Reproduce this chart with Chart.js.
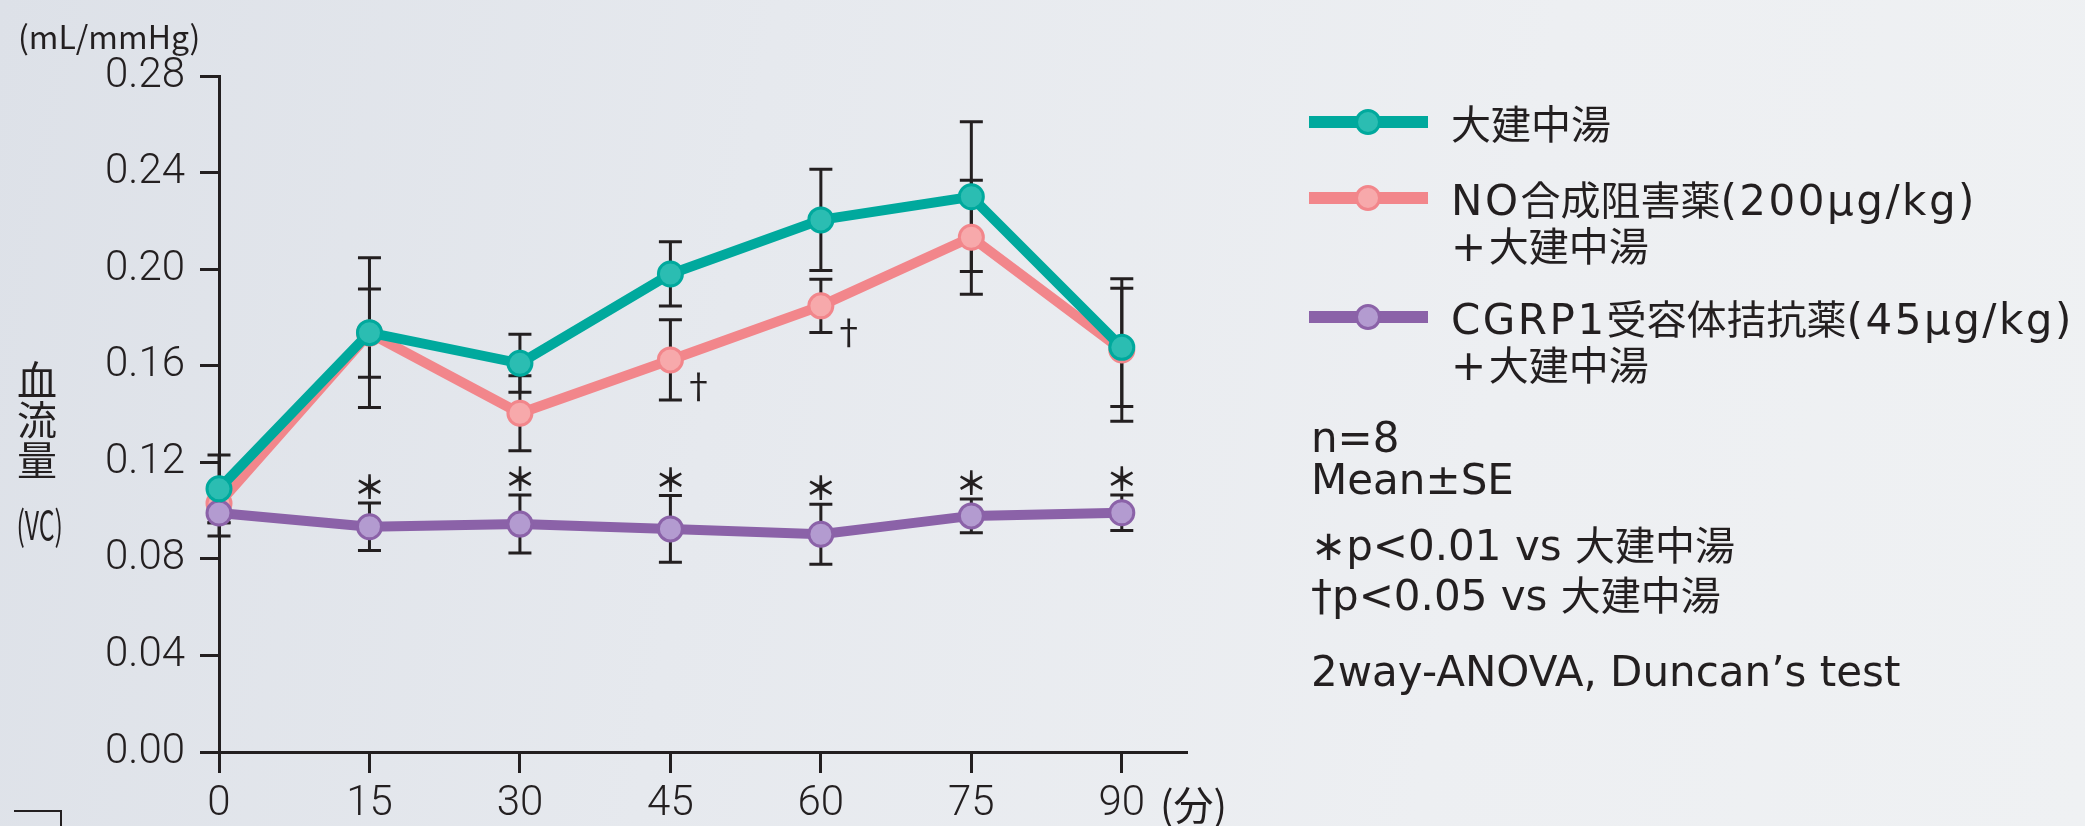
<!DOCTYPE html>
<html>
<head>
<meta charset="utf-8">
<script src="https://cdn.jsdelivr.net/npm/chart.js@4.4.1/dist/chart.umd.min.js"></script>
<style>
  html, body { margin: 0; padding: 0; }
  body {
    width: 2085px; height: 826px; overflow: hidden;
    background: linear-gradient(100deg, #dde1e8 0%, #e6e9ee 35%, #edeff2 70%, #eff1f3 100%);
    font-family: 'Noto Sans CJK JP', 'Noto Sans', sans-serif;
    color: #231f20;
  }
  #wrap { position: relative; width: 2085px; height: 826px; }
  #c { position: absolute; left: 0; top: 0; }
  .t { position: absolute; white-space: nowrap; line-height: 46px; font-size: 40px; }
  .t .lat { font-family: 'DejaVu Sans', sans-serif; font-size: 42px; }
  .leg .lat { letter-spacing: 2.5px; }
  .sw { position: absolute; width: 119px; height: 12px; }
  .dot { position: absolute; width: 20px; height: 20px; border-radius: 50%; border: 3px solid; }
  .mark { position: absolute; transform: translate(-50%, -50%); line-height: 1; }
</style>
</head>
<body>
<div id="wrap">
  <canvas id="c" width="2085" height="826"></canvas>
</div>
<script>
// 時間(分)
const times = [0, 15, 30, 45, 60, 75, 90];
const xTicks = [0, 15, 30, 45, 60, 75, 90];
const yTicks = [0, 0.04, 0.08, 0.12, 0.16, 0.20, 0.24, 0.28];

// 血流量 (mL/mmHg), Mean±SE
const daikenchuto   = [0.109, 0.1737, 0.161, 0.198, 0.2204, 0.230, 0.1676];
const daikenchutoSE = [0.014, 0.031, 0.012, 0.0133, 0.021, 0.031, 0.0245];
const noInhibitor   = [0.103, 0.1735, 0.1403, 0.1624, 0.1848, 0.2132, 0.1665];
const noInhibitorSE = [0.008, 0.0183, 0.0155, 0.0166, 0.011, 0.0236, 0.0295];
const cgrp          = [0.099, 0.0933, 0.0944, 0.0924, 0.0902, 0.0978, 0.0991];
const cgrpSE        = [0.0095, 0.0098, 0.012, 0.0138, 0.0124, 0.007, 0.0074];

// 有意差マーク
const cgrpMarks = ['', '＊', '＊', '＊', '＊', '＊', '＊'];
const noMarks   = ['', '', '', '†', '†', '', ''];

const labels = ['大建中湯', 'NO合成阻害薬(200μg/kg)\n+大建中湯', 'CGRP1受容体拮抗薬(45μg/kg)\n+大建中湯'];
const notes = ['n=8', 'Mean±SE', '∗p<0.01 vs 大建中湯', '†p<0.05 vs 大建中湯', '2way-ANOVA, Duncan’s test'];

const ink = '#231f20';
const teal = '#00a99d', pink = '#f2868b', purple = '#8b62a8';

function pts(vals) {
  return times.map((t, i) => ({ x: t, y: vals[i] }));
}

function dataset(label, vals, se, line, fill, order) {
  return {
    label: label, data: pts(vals), se: se,
    borderColor: line, borderWidth: 10,
    pointRadius: 12, pointBorderWidth: 3,
    pointBackgroundColor: fill, pointBorderColor: line,
    tension: 0, clip: false, order: order
  };
}

// エラーバー (データより先に描く)
const errorBars = {
  id: 'errorBars',
  beforeDatasetsDraw(chart) {
    const ctx = chart.ctx, xs = chart.scales.x, ys = chart.scales.y;
    ctx.save();
    ctx.strokeStyle = ink;
    ctx.lineWidth = 3;
    chart.data.datasets.forEach(ds => {
      ds.data.forEach((p, i) => {
        const x = xs.getPixelForValue(p.x);
        const y1 = ys.getPixelForValue(p.y + ds.se[i]);
        const y2 = ys.getPixelForValue(p.y - ds.se[i]);
        ctx.beginPath();
        ctx.moveTo(x, y1); ctx.lineTo(x, y2);
        ctx.moveTo(x - 11.5, y1); ctx.lineTo(x + 11.5, y1);
        ctx.moveTo(x - 11.5, y2); ctx.lineTo(x + 11.5, y2);
        ctx.stroke();
      });
    });
    ctx.restore();
  }
};

const axisFont = { family: 'Roboto', size: 42, weight: 300 };

const chart = new Chart(document.getElementById('c'), {
  type: 'line',
  data: {
    datasets: [
      dataset(labels[0], daikenchuto, daikenchutoSE, teal, '#2bbdb2', 0),
      dataset(labels[1], noInhibitor, noInhibitorSE, pink, '#f7a9ab', 2),
      dataset(labels[2], cgrp, cgrpSE, purple, '#b39bd0', 1)
    ]
  },
  options: {
    responsive: false,
    animation: false,
    devicePixelRatio: 1,
    layout: { autoPadding: false, padding: { left: 0, top: 76, right: 898, bottom: 0 } },
    plugins: { legend: { display: false }, tooltip: { enabled: false } },
    scales: {
      x: {
        type: 'linear', min: 0, max: 96.5,
        afterBuildTicks: s => { s.ticks = xTicks.map(v => ({ value: v })); },
        afterFit: s => { s.height = 74; },
        grid: { drawOnChartArea: false, tickLength: 21, tickWidth: 3, tickColor: ink },
        border: { display: true, color: ink, width: 3 },
        ticks: { color: ink, font: axisFont, padding: 6, maxRotation: 0, callback: v => String(v) }
      },
      y: {
        min: 0, max: 0.28,
        afterBuildTicks: s => { s.ticks = yTicks.map(v => ({ value: v })); },
        afterFit: s => { s.width = 219; },
        grid: { drawOnChartArea: false, tickLength: 19, tickWidth: 3, tickColor: ink },
        border: { display: true, color: ink, width: 3 },
        ticks: { color: ink, font: axisFont, padding: 15, callback: v => v.toFixed(2) }
      }
    }
  },
  plugins: [errorBars]
});

const wrap = document.getElementById('wrap');
// 和文と欧文を分けて欧文は幅の広い書体にする
function fillRuns(el, txt) {
  txt.split(/([\u3000-\u30ff\u4e00-\u9fff\uff00-\uffef]+)/).forEach(part => {
    if (!part) return;
    const s = document.createElement('span');
    s.textContent = part;
    if (!/[\u3000-\u30ff\u4e00-\u9fff\uff00-\uffef]/.test(part)) s.className = 'lat';
    el.appendChild(s);
  });
}
function addText(txt, css, mixed, cls) {
  const d = document.createElement('div');
  d.className = 't' + (cls ? ' ' + cls : '');
  if (mixed) fillRuns(d, txt); else d.textContent = txt;
  Object.assign(d.style, css);
  wrap.appendChild(d);
  return d;
}
function addMark(txt, x, y, size, weight) {
  const d = document.createElement('div');
  d.className = 'mark';
  d.textContent = txt;
  d.style.left = x + 'px';
  d.style.top = y + 'px';
  d.style.fontSize = size + 'px';
  d.style.fontWeight = weight;
  wrap.appendChild(d);
}

// ＊ と † を軸の座標から置く
const xs = chart.scales.x, ys = chart.scales.y;
times.forEach((t, i) => {
  if (cgrpMarks[i]) {
    addMark(cgrpMarks[i], xs.getPixelForValue(t), ys.getPixelForValue(cgrp[i] + cgrpSE[i]) - 18, 32, 700);
  }
  if (noMarks[i]) {
    addMark(noMarks[i], xs.getPixelForValue(t) + 28, ys.getPixelForValue(noInhibitor[i]) + 25, 34, 400);
  }
});

// 軸タイトル
addText('(mL/mmHg)', { left: '18px', top: '12px', fontSize: '32px', lineHeight: '46px' });
addText('血流量', { left: '17px', top: '360px', fontSize: '40px', writingMode: 'vertical-rl', lineHeight: '40px' });
addText('(VC)', { left: '-47px', top: '500px', fontSize: '40px', transform: 'scaleX(0.62)', transformOrigin: 'right center', width: '110px', textAlign: 'right' });
addText('(分)', { left: '1160px', top: '780px', fontSize: '40px' });

// 凡例
const legendRows = [
  { color: teal, fill: '#2bbdb2', y: 122 },
  { color: pink, fill: '#f7a9ab', y: 198 },
  { color: purple, fill: '#b39bd0', y: 317 }
];
legendRows.forEach((r, i) => {
  const sw = document.createElement('div');
  sw.className = 'sw';
  sw.style.left = '1309px'; sw.style.top = (r.y - 6) + 'px'; sw.style.background = r.color;
  wrap.appendChild(sw);
  const dot = document.createElement('div');
  dot.className = 'dot';
  dot.style.left = (1368 - 13) + 'px'; dot.style.top = (r.y - 13) + 'px';
  dot.style.background = r.fill; dot.style.borderColor = r.color;
  wrap.appendChild(dot);
  labels[i].split('\n').forEach((line, k) => {
    addText(line, { left: '1451px', top: (r.y - 23 + k * 46) + 'px' }, true, 'leg');
  });
});

// 注記
const noteY = [435, 477, 543, 593, 669];
notes.forEach((n, i) => addText(n, { left: '1311px', top: (noteY[i] - 23) + 'px' }, true));

// 左下の枠(次の図の一部)
const box = document.createElement('div');
Object.assign(box.style, { position: 'absolute', left: '14px', top: '810px', width: '46px', height: '40px', borderTop: '2px solid ' + ink, borderRight: '2px solid ' + ink });
wrap.appendChild(box);
</script>
</body>
</html>
